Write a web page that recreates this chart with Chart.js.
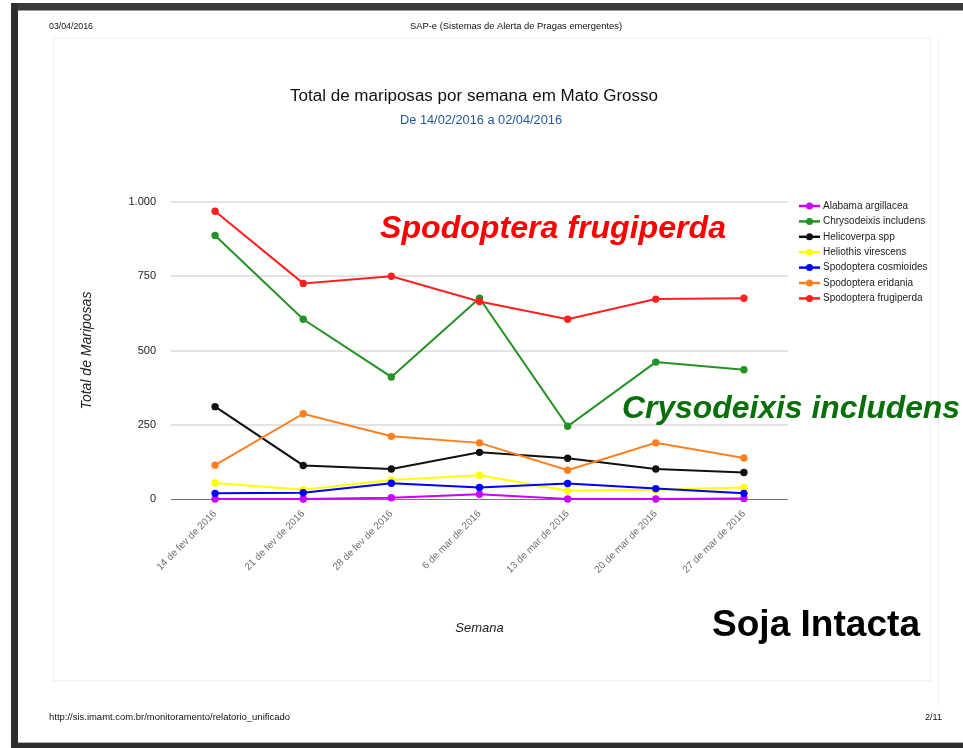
<!DOCTYPE html>
<html lang="pt-BR">
<head>
<meta charset="utf-8">
<title>Total de mariposas por semana em Mato Grosso</title>
<script src="https://cdn.jsdelivr.net/npm/chart.js@4.4.1/dist/chart.umd.min.js"></script>
<style>
  html, body { margin: 0; padding: 0; background: #fff; }
  #pagina { position: relative; width: 963px; height: 748px; }
</style>
</head>
<body>
<div id="pagina"><canvas id="grafico" width="963" height="748"></canvas></div>
<script>
// semanas (eixo X)
const semanas = ['14 de fev de 2016', '21 de fev de 2016', '28 de fev de 2016', '6 de mar de 2016',
                 '13 de mar de 2016', '20 de mar de 2016', '27 de mar de 2016'];

// total de mariposas por espécie
const alabamaArgillacea    = [0, 0, 4, 16, 0, 0, 2];
const chrysodeixisIncludens = [887, 605, 411, 676, 245, 461, 435];
const helicoverpaSpp       = [311, 113, 101, 157, 137, 101, 89];
const heliothisVirescens   = [54, 31, 64, 80, 28, 31, 39];
const spodopteraCosmioides = [19, 21, 53, 39, 52, 35, 19];
const spodopteraEridania   = [114, 287, 211, 189, 97, 189, 138];
const spodopteraFrugiperda = [969, 726, 750, 665, 605, 673, 676];

// eixo Y
const ticksY = [0, 250, 500, 750, 1000];
const rotulosY = ['0', '250', '500', '750', '1.000'];

const fonte = "'Liberation Sans', Arial, sans-serif";

const series = [
    { label: 'Alabama argillacea',     data: alabamaArgillacea,    cor: '#cc00ff' },
    { label: 'Chrysodeixis includens', data: chrysodeixisIncludens, cor: '#259225' },
    { label: 'Helicoverpa spp',        data: helicoverpaSpp,       cor: '#111111' },
    { label: 'Heliothis virescens',    data: heliothisVirescens,   cor: '#ffff00' },
    { label: 'Spodoptera cosmioides',  data: spodopteraCosmioides, cor: '#0000ff' },
    { label: 'Spodoptera eridania',    data: spodopteraEridania,   cor: '#ff7f1f' },
    { label: 'Spodoptera frugiperda',  data: spodopteraFrugiperda, cor: '#ff1f1f' }
];

// texto esticado/comprimido até a largura do original
function texto(ctx, s, x, y, font, cor, align, largura) {
    ctx.save();
    ctx.font = font;
    ctx.fillStyle = cor;
    ctx.textBaseline = 'middle';
    if (largura) {
        const w = ctx.measureText(s).width;
        const xi = align === 'center' ? x - largura / 2 : (align === 'right' ? x - largura : x);
        ctx.translate(xi, y);
        ctx.scale(largura / w, 1);
        ctx.textAlign = 'left';
        ctx.fillText(s, 0, 0);
    } else {
        ctx.textAlign = align || 'left';
        ctx.fillText(s, x, y);
    }
    ctx.restore();
}

// moldura da página, cabeçalho, rodapé, legenda e anotações
const pagina = {
    id: 'pagina',
    beforeDraw(chart) {
        const ctx = chart.ctx;
        ctx.save();
        ctx.fillStyle = '#ffffff';
        ctx.fillRect(0, 0, chart.width, chart.height);
        // caixa clara do gráfico
        ctx.strokeStyle = '#f0f0f0';
        ctx.lineWidth = 1;
        ctx.strokeRect(53.5, 38.5, 877, 642);
        ctx.beginPath();
        ctx.moveTo(938.5, 38);
        ctx.lineTo(938.5, 705);
        ctx.stroke();
        // bordas escuras
        ctx.fillStyle = '#3a3a3a';
        ctx.fillRect(11, 3, chart.width - 11, 7);
        ctx.fillStyle = '#9a9a9a';
        ctx.fillRect(18, 10, chart.width - 18, 1);
        ctx.fillStyle = '#2e2e2e';
        ctx.fillRect(11, 3, 7, chart.height - 3);
        ctx.fillRect(11, 743, chart.width - 11, 5);
        ctx.fillStyle = '#b0b0b0';
        ctx.fillRect(18, 742, chart.width - 18, 1);
        ctx.restore();
    },
    afterDraw(chart) {
        const ctx = chart.ctx;
        // cabeçalho e rodapé
        texto(ctx, '03/04/2016', 49, 27, '9px ' + fonte, '#111', 'left', 44);
        texto(ctx, 'SAP-e (Sistemas de Alerta de Pragas emergentes)', 516, 27, '9px ' + fonte, '#111', 'center', 212);
        texto(ctx, 'http://sis.imamt.com.br/monitoramento/relatorio_unificado', 49, 718, '9px ' + fonte, '#111', 'left', 241);
        texto(ctx, '2/11', 925, 718, '9px ' + fonte, '#111', 'left', 17);
        // títulos
        texto(ctx, 'Total de mariposas por semana em Mato Grosso', 474, 97, '16px ' + fonte, '#111', 'center', 368);
        texto(ctx, 'De 14/02/2016 a 02/04/2016', 481, 121, '12px ' + fonte, '#2458a6', 'center', 162);
        // legenda
        const x0 = 799, y0 = 206, passo = 15.4;
        chart.data.datasets.forEach((ds, i) => {
            const y = y0 + i * passo;
            ctx.save();
            ctx.strokeStyle = ds.borderColor;
            ctx.lineWidth = 2.5;
            ctx.beginPath();
            ctx.moveTo(x0, y);
            ctx.lineTo(x0 + 21, y);
            ctx.stroke();
            ctx.fillStyle = ds.borderColor;
            ctx.beginPath();
            ctx.arc(x0 + 10.5, y, 3.5, 0, Math.PI * 2);
            ctx.fill();
            ctx.restore();
            texto(ctx, ds.label, x0 + 24, y, '10px ' + fonte, '#222', 'left');
        });
        // anotações
        texto(ctx, 'Spodoptera frugiperda', 380, 229, 'italic bold 32px ' + fonte, '#ff0000', 'left', 346);
        texto(ctx, 'Crysodeixis includens', 622, 409, 'italic bold 32px ' + fonte, '#087008', 'left', 338);
        texto(ctx, 'Soja Intacta', 712, 626, 'bold 36px ' + fonte, '#000000', 'left', 208);
    }
};

const ctx = document.getElementById('grafico');

new Chart(ctx, {
    type: 'line',
    data: {
        labels: semanas,
        datasets: series.map((s, i) => ({
            label: s.label,
            data: s.data,
            borderColor: s.cor,
            backgroundColor: s.cor,
            pointBackgroundColor: s.cor,
            pointBorderColor: s.cor,
            borderWidth: 2,
            pointRadius: 3.7,
            pointBorderWidth: 0,
            tension: 0,
            clip: false,
            order: series.length - i // última série por cima
        }))
    },
    options: {
        responsive: false,
        animation: false,
        events: [],
        layout: { padding: { left: 0, right: 175, top: 202, bottom: 99 } },
        plugins: {
            legend: { display: false },
            tooltip: { enabled: false },
            title: { display: false }
        },
        scales: {
            x: {
                offset: true,
                grid: { display: false, drawTicks: false },
                border: { display: false },
                ticks: {
                    autoSkip: false,
                    maxRotation: 45,
                    minRotation: 45,
                    padding: 9,
                    color: '#707070',
                    font: { family: fonte, size: 10 }
                },
                title: {
                    display: true,
                    text: 'Semana',
                    color: '#222',
                    font: { family: fonte, size: 13, style: 'italic' },
                    padding: { top: 0, bottom: 13 }
                },
                afterFit(scale) { scale.height = 150; }
            },
            y: {
                min: 0,
                max: 1000,
                afterBuildTicks(scale) { scale.ticks = ticksY.map(v => ({ value: v })); },
                grid: {
                    drawTicks: false,
                    color: c => c.tick && c.tick.value === 0 ? '#777777' : '#e4e4e4',
                    lineWidth: c => c.tick && c.tick.value === 0 ? 1 : 2
                },
                border: { display: false },
                ticks: {
                    padding: 15,
                    color: '#222',
                    font: { family: fonte, size: 11 },
                    callback: v => rotulosY[ticksY.indexOf(v)]
                },
                title: {
                    display: true,
                    text: 'Total de Mariposas',
                    color: '#222',
                    font: { family: fonte, size: 14, style: 'italic' },
                    padding: { top: 79, bottom: 0 }
                },
                afterFit(scale) { scale.width = 171; }
            }
        }
    },
    plugins: [pagina]
});
</script>
</body>
</html>
